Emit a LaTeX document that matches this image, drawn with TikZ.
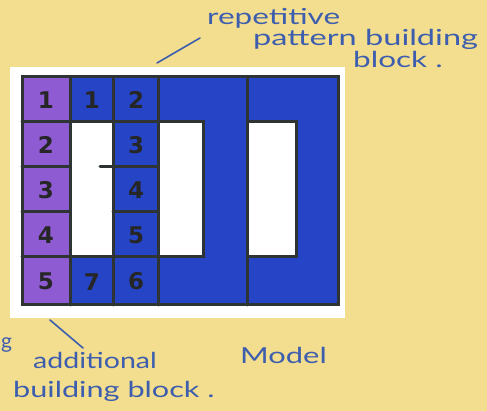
\documentclass[tikz,border=0pt]{standalone}
\usepackage{fontspec}
\setmainfont{Lato}
\newfontfamily\numfont{DejaVu Sans}
\definecolor{paper}{HTML}{F2DE8E}
\definecolor{violet}{HTML}{8E5BD2}
\definecolor{ink}{HTML}{2545C6}
\definecolor{pen}{HTML}{3D5DAE}
\definecolor{edge}{HTML}{2E3333}
\newcommand{\hw}[2]{\scalebox{#1}[1.05]{#2}}
\tikzset{
  grid line/.style={draw=edge,line width=3pt,line cap=round},
  num/.style={font=\numfont\bfseries\fontsize{23}{23}\selectfont,text=black!85},
  hand/.style={font=\fontsize{21}{21}\selectfont,text=pen,inner sep=0pt},
  leader/.style={draw=pen,line width=1.6pt,line cap=round}
}
\begin{document}
\begin{tikzpicture}[x=1pt,y=-1pt]
\fill[paper] (0,0) rectangle (487,411);
\useasboundingbox (0,0) rectangle (487,411);
% white card
\fill[white] (10,67) rectangle (345,318);
% purple column
\fill[violet] (22,77) rectangle (70,305);
% blue regions
\fill[ink] (70,77) rectangle (338,305);
\fill[white] (71,122) rectangle (113,257);
\fill[white] (158,122) rectangle (203,257);
\fill[white] (247,122) rectangle (296,257);
% lines
\draw[grid line] (22,77) rectangle (338,305);
\draw[grid line] (70,77) -- (70,305);
\draw[grid line] (113,77) -- (113,305);
\draw[grid line] (158,77) -- (158,305);
\draw[grid line] (247,77) -- (247,305);
\draw[grid line] (22,122) -- (203,122) -- (203,257) -- (22,257);
\draw[grid line] (22,167) -- (70,167);
\draw[grid line] (22,212) -- (70,212);
\draw[grid line] (100,167) -- (158,167);
\draw[grid line] (113,212) -- (158,212);
\draw[grid line] (247,122) -- (296,122) -- (296,257) -- (247,257);
% numbers
\node[num] (p1) at (46,100) {1};
\node[num] (p2) at (46,145) {2};
\node[num] (p3) at (46,190) {3};
\node[num] (p4) at (46,235) {4};
\node[num] (p5) at (46,281) {5};
\node[num] (b1) at (92,100) {1};
\node[num] (b7) at (92,282) {7};
\node[num] (c2) at (136,100) {2};
\node[num] (c3) at (136,145) {3};
\node[num] (c4) at (136,190) {4};
\node[num] (c5) at (136,235) {5};
\node[num] (c6) at (136,281) {6};
% labels
\node[hand,anchor=west] (rep) at (207,18) {\hw{1.5}{repetitive}};
\node[hand,anchor=west] (pat) at (253,39) {\hw{1.55}{pattern building}};
\node[hand,anchor=west] (blk) at (353,59) {\hw{1.5}{block .}};
\node[hand,anchor=west] (add) at (33,360) {\hw{1.36}{additional}};
\node[hand,anchor=west] (bb) at (13,391) {\hw{1.46}{building block .}};
\node[hand,anchor=west] (mod) at (240,355) {\hw{1.47}{Model}};
\node[hand,anchor=west] (gg) at (1,345) {g};
\coordinate (t1) at (157,63);
\coordinate (t2) at (200,38);
\coordinate (u1) at (50,320);
\coordinate (u2) at (83,348);
\draw[leader] (t1) -- (t2);
\draw[leader] (u1) -- (u2);
\end{tikzpicture}
\end{document}
